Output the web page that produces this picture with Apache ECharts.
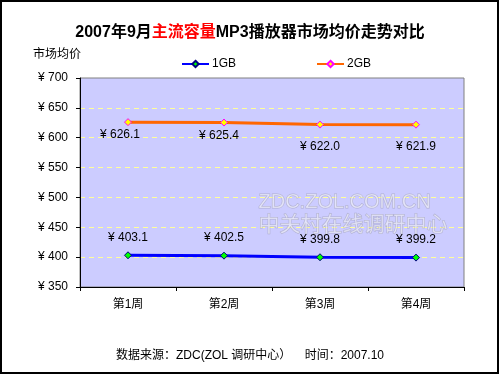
<!DOCTYPE html>
<html><head><meta charset="utf-8">
<script src="https://cdn.jsdelivr.net/npm/echarts@6/dist/echarts.min.js"></script>
<style>html,body{margin:0;padding:0;background:#fff}#c{width:500px;height:375px}</style>
</head><body><div id="c"></div>
<script>
const categories = ['第1周', '第2周', '第3周', '第4周'];
const gb1 = [403.1, 402.5, 399.8, 399.2];
const gb2 = [626.1, 625.4, 622.0, 621.9];
const seriesNames = ['1GB', '2GB'];
const yMin = 350, yMax = 700, yStep = 50;
const gb2LabelOffsets = [[-8, 0], [-5, 0], [0, 9], [0, 9]];

const chart = echarts.init(document.getElementById('c'), null, {renderer: 'canvas'});
const font = 'Arial, "Liberation Sans", "Noto Sans CJK SC", sans-serif';
chart.setOption({
  animation: false,
  backgroundColor: '#fff',
  textStyle: {fontFamily: font},
  title: [{
    text: '{a|2007年9月}{r|主流容量}{a|MP3播放器市场均价走势对比}',
    left: 'center', top: 20,
    textStyle: {rich: {
      a: {fontSize: 16, fontWeight: 'bold', color: '#000', fontFamily: font},
      r: {fontSize: 16, fontWeight: 'bold', color: '#ff0000', fontFamily: font}
    }}
  }, {
    text: '数据来源：ZDC(ZOL 调研中心）    时间：2007.10',
    left: 'center', top: 345,
    textStyle: {fontSize: 12, fontWeight: 'normal', color: '#000', fontFamily: font}
  }],
  legend: {
    left: 176, top: 53, itemWidth: 27, itemHeight: 8, itemGap: 80,
    textStyle: {fontSize: 12, color: '#000', padding: [0, 0, 0, -2]},
    data: seriesNames
  },
  graphic: [
    {type: 'rect', shape: {x: 1, y: 1, width: 497, height: 372}, style: {fill: 'none', stroke: '#000', lineWidth: 2}, silent: true},
    {type: 'text', left: 33, top: 49, style: {text: '市场均价', font: '12px ' + font, fill: '#000'}},
    {type: 'text', left: 258, top: 192, z: 1, style: {text: 'ZDC.ZOL.COM.CN', font: '20px ' + font, fill: 'rgba(255,255,255,0.5)', stroke: 'rgba(150,150,170,0.55)', lineWidth: 1}},
    {type: 'text', left: 258, top: 214, z: 1, style: {text: '中关村在线调研中心', font: '21px ' + font, fill: 'rgba(255,255,255,0.5)', stroke: 'rgba(150,150,170,0.55)', lineWidth: 1}}
  ],
  grid: {left: 80, top: 78, width: 384, height: 209, backgroundColor: '#ccccff', show: true, borderColor: '#808080', borderWidth: 1},
  xAxis: {
    type: 'category', data: categories, boundaryGap: true,
    axisLine: {lineStyle: {color: '#000', width: 1}},
    axisTick: {show: true, inside: false, length: 4, lineStyle: {color: '#000'}},
    axisLabel: {color: '#000', fontSize: 12, margin: 12}
  },
  yAxis: {
    type: 'value', min: yMin, max: yMax, interval: yStep,
    axisLine: {show: true, lineStyle: {color: '#000'}},
    axisTick: {show: true, length: 4, lineStyle: {color: '#000'}},
    axisLabel: {color: '#000', fontSize: 12, margin: 12, formatter: v => '¥ ' + v},
    splitLine: {show: true, showMaxLine: false, lineStyle: {color: '#ffff99', type: [5, 4], width: 1}}
  },
  series: [{
    name: seriesNames[0], type: 'line', data: gb1,
    symbol: 'diamond', symbolSize: 7,
    lineStyle: {color: '#0000ff', width: 3},
    itemStyle: {color: '#00ff00', borderColor: '#000080', borderWidth: 1},
    label: {show: true, position: 'top', distance: 8, color: '#000', fontSize: 12,
      formatter: p => '¥ ' + p.value.toFixed(1)},
    z: 3
  }, {
    name: seriesNames[1], type: 'line',
    data: gb2.map((v, i) => ({value: v, label: {offset: gb2LabelOffsets[i]}})),
    symbol: 'diamond', symbolSize: 7,
    lineStyle: {color: '#ff6600', width: 3},
    itemStyle: {color: '#ffff00', borderColor: '#ff00ff', borderWidth: 1},
    label: {show: true, position: 'bottom', distance: 3, color: '#000', fontSize: 12,
      formatter: p => '¥ ' + p.value.toFixed(1)},
    z: 3
  }]
});
</script></body></html>
